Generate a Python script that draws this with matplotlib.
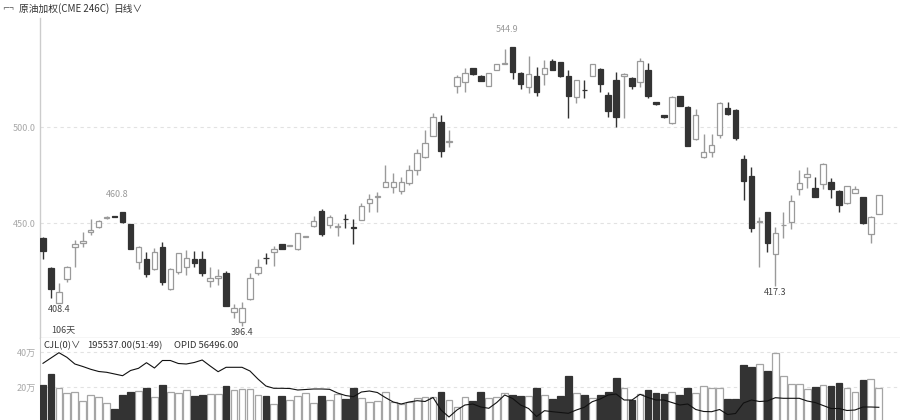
import matplotlib
matplotlib.use("Agg")
import matplotlib.pyplot as plt
import numpy as np

plt.rcParams['font.family'] = ['Noto Sans CJK SC', 'DejaVu Sans']

# ---------------- data (daily candles, 106 days) ----------------
opens = [442.5, 426.9, 408.4, 420.8, 437.5, 439.9, 445.6, 447.9, 452.6, 453.6,
         455.7, 449.6, 430.0, 431.3, 426.0, 437.5, 415.6, 424.8, 427.4, 431.6,
         431.6, 420.0, 421.4, 424.0, 403.6, 398.8, 410.6, 424.3, 432.0, 435.1,
         439.2, 438.2, 436.5, 442.9, 448.5, 456.4, 449.1, 448.0, 452.3, 447.8,
         451.7, 460.4, 463.7, 469.1, 469.1, 466.8, 470.8, 477.8, 484.5, 495.6,
         502.9, 492.3, 521.5, 523.7, 530.7, 526.9, 521.5, 529.8, 533.0, 541.7,
         528.1, 521.1, 526.7, 527.6, 534.5, 533.9, 526.7, 515.6, 519.5, 526.7,
         530.2, 516.8, 524.6, 526.7, 525.8, 523.4, 529.8, 513.0, 506.4, 502.1,
         516.3, 510.7, 493.8, 484.4, 487.0, 496.0, 509.9, 509.0, 483.5, 474.6,
         450.6, 455.7, 433.9, 448.9, 450.8, 467.9, 474.0, 468.2, 470.5, 471.4,
         466.8, 460.4, 465.9, 463.5, 444.3, 454.8]
highs = [443.0, 427.4, 418.8, 427.6, 441.3, 445.6, 452.1, 451.5, 453.6, 453.8,
         456.0, 449.8, 438.0, 435.2, 437.0, 440.4, 426.9, 434.8, 436.1, 435.6,
         435.6, 427.4, 426.0, 425.3, 408.0, 409.2, 424.0, 431.3, 434.4, 438.0,
         439.4, 438.6, 445.0, 443.3, 453.8, 457.3, 454.3, 450.3, 454.7, 452.1,
         460.7, 465.3, 466.5, 480.4, 476.0, 474.0, 480.4, 488.5, 498.6, 507.3,
         506.4, 498.6, 527.2, 530.7, 531.0, 527.1, 528.3, 533.2, 540.6, 542.0,
         529.0, 537.1, 531.6, 535.1, 535.6, 534.1, 529.8, 524.8, 524.6, 533.2,
         531.0, 518.5, 529.0, 528.1, 526.2, 535.9, 533.3, 513.2, 506.6, 516.1,
         516.5, 510.9, 509.5, 496.4, 496.4, 513.3, 513.3, 509.5, 485.6, 479.2,
         453.4, 456.0, 447.9, 456.0, 464.7, 477.8, 479.5, 474.0, 481.2, 473.4,
         467.5, 469.6, 469.4, 463.7, 453.6, 464.9]
lows = [431.3, 410.9, 408.4, 419.6, 427.4, 437.8, 443.9, 447.5, 452.4, 453.2,
        450.3, 436.5, 426.4, 421.9, 425.7, 417.9, 415.4, 423.6, 423.1, 427.1,
        422.6, 417.0, 417.9, 407.0, 400.5, 396.4, 410.0, 423.1, 428.9, 427.6,
        436.6, 438.0, 436.3, 442.7, 447.9, 443.4, 447.4, 443.4, 447.7, 439.2,
        451.5, 456.0, 456.0, 468.9, 466.0, 465.1, 469.9, 475.2, 483.9, 495.4,
        484.7, 489.9, 517.7, 518.5, 527.4, 524.1, 521.3, 529.6, 532.8, 525.0,
        519.8, 518.0, 516.5, 522.0, 529.6, 526.2, 504.7, 512.8, 515.1, 526.5,
        518.5, 505.2, 500.3, 504.7, 519.8, 521.1, 515.1, 511.8, 505.0, 501.9,
        511.1, 490.1, 493.6, 484.2, 484.4, 494.6, 506.4, 493.4, 462.1, 445.6,
        427.4, 435.2, 417.3, 442.2, 446.9, 464.7, 468.2, 463.7, 467.7, 463.0,
        456.0, 460.2, 465.7, 449.8, 439.6, 454.6]
closes = [435.7, 415.6, 414.1, 427.4, 439.0, 440.8, 446.5, 451.2, 453.4, 453.4,
          450.5, 436.8, 437.5, 423.4, 435.2, 419.6, 426.0, 434.4, 431.8, 429.5,
          424.3, 421.7, 422.7, 407.1, 406.0, 405.7, 421.4, 427.1, 431.8, 436.6,
          436.8, 438.4, 444.8, 443.1, 451.0, 444.4, 453.1, 448.8, 452.1, 447.6,
          459.0, 462.7, 464.4, 471.4, 471.7, 471.7, 477.8, 486.8, 492.0, 505.5,
          487.8, 492.6, 526.0, 528.1, 527.6, 524.3, 528.1, 533.0, 533.5, 529.0,
          522.5, 527.8, 518.5, 531.1, 529.8, 526.9, 516.5, 524.6, 519.3, 533.0,
          522.4, 508.6, 505.5, 527.7, 521.7, 534.5, 516.5, 512.0, 505.2, 515.9,
          511.3, 490.3, 506.4, 487.3, 490.8, 512.8, 506.9, 494.6, 472.2, 447.4,
          451.0, 439.6, 445.1, 449.3, 461.6, 470.8, 475.5, 463.9, 480.9, 467.9,
          459.5, 469.4, 467.7, 450.0, 453.4, 464.7]
# volume, in 万 (10k contracts)
volume = [21.1, 27.4, 19.6, 16.4, 17.3, 12.0, 15.4, 14.1, 10.7, 7.2,
          15.4, 17.1, 17.7, 19.6, 14.5, 21.1, 17.0, 16.4, 18.3, 14.9,
          15.4, 15.8, 15.8, 20.6, 18.3, 18.9, 18.9, 15.4, 14.9, 10.0,
          14.9, 12.6, 14.9, 16.4, 11.0, 14.9, 12.6, 16.0, 13.1, 19.2,
          13.5, 11.6, 12.0, 17.0, 11.2, 10.3, 11.6, 13.9, 14.5, 14.5,
          17.0, 12.4, 8.4, 14.1, 12.0, 17.0, 13.5, 14.5, 16.4, 15.4,
          14.9, 14.9, 19.2, 15.4, 13.1, 14.9, 26.3, 16.4, 15.4, 13.5,
          15.4, 17.1, 25.0, 19.2, 12.6, 16.0, 18.3, 16.8, 16.0, 17.0,
          15.4, 19.2, 16.8, 20.6, 19.2, 19.2, 13.1, 13.1, 32.6, 31.6,
          33.1, 29.1, 39.2, 26.3, 21.7, 21.7, 18.7, 19.8, 21.1, 20.6,
          22.5, 19.2, 17.3, 24.0, 24.4, 19.55]
# open interest, in 万
open_interest = [10.05, 10.58, 11.11, 10.65, 9.98, 9.73, 9.45, 9.23, 9.15, 8.98,
                 8.81, 9.33, 9.55, 10.11, 9.58, 10.33, 10.33, 10.03, 9.98, 10.13,
                 10.38, 9.78, 9.21, 9.65, 9.65, 9.65, 9.28, 8.48, 7.78, 7.55,
                 7.55, 7.53, 7.38, 7.43, 7.48, 7.48, 7.45, 7.08, 6.83, 6.71,
                 7.18, 7.28, 7.13, 6.63, 6.18, 5.98, 6.18, 6.31, 6.23, 6.63,
                 5.38, 4.68, 5.38, 5.88, 5.98, 5.68, 5.55, 6.13, 6.88, 6.53,
                 5.88, 5.53, 4.73, 5.31, 5.21, 5.13, 5.05, 5.38, 5.65, 6.21,
                 6.48, 6.88, 6.98, 6.38, 6.38, 6.95, 6.63, 6.38, 6.38, 6.13,
                 5.88, 5.98, 5.43, 5.23, 5.21, 5.43, 4.93, 5.03, 6.08, 6.38,
                 6.23, 6.28, 6.61, 6.55, 6.55, 6.55, 6.28, 6.13, 5.83, 5.53,
                 5.53, 5.33, 5.38, 5.68, 5.68, 5.65]

price_ticks = [450.0, 500.0]
price_tick_labels = ["450.0", "500.0"]
vol_ticks = [20, 40]
vol_tick_labels = ["20万", "40万"]

# annotated extremes: (index, label, above?)
annotations = [(10, "460.8", True), (59, "544.9", True),
               (2, "408.4", False), (25, "396.4", False), (92, "417.3", False)]

# ---------------- drawing ----------------
W, H = 900, 420
fig = plt.figure(figsize=(W / 100, H / 100), dpi=100)
fig.patch.set_facecolor("white")


def frac(x0, y0, x1, y1):
    return [x0 / W, 1 - y1 / H, (x1 - x0) / W, (y1 - y0) / H]


DARK = "#333333"
GRAY = "#9a9a9a"
GRID = "#e2e2e2"
AXIS = "#cccccc"

ax = fig.add_axes(frac(40, 18, 900, 338))
axv = fig.add_axes(frac(40, 338, 900, 420), sharex=ax)

O = np.array(opens); Hh = np.array(highs); L = np.array(lows); C = np.array(closes)
idx = np.arange(len(O))
up = C >= O

# wicks
ax.vlines(idx[up], L[up], Hh[up], color=GRAY, lw=1.0, zorder=2)
ax.vlines(idx[~up], L[~up], Hh[~up], color=DARK, lw=1.0, zorder=2)
# bodies
bw = 0.68
bottom = np.minimum(O, C)
height = np.maximum(np.abs(C - O), 0.35)
ax.bar(idx[up], height[up], bw, bottom=bottom[up], facecolor="white",
       edgecolor=GRAY, linewidth=0.9, zorder=3)
ax.bar(idx[~up], height[~up], bw, bottom=bottom[~up], facecolor=DARK,
       edgecolor=DARK, linewidth=0.9, zorder=3)

ax.set_xlim(-0.377, 107.66)
ax.set_ylim(390.3, 556.9)
for v in price_ticks:
    ax.axhline(v, color=GRID, lw=0.8, ls=(0, (3, 3)), zorder=1)
ax.set_yticks(price_ticks)
ax.set_yticklabels(price_tick_labels)
ax.tick_params(axis="y", length=0, pad=3, labelsize=6.5, labelcolor="#a8a8a8")
ax.tick_params(axis="x", length=0, labelbottom=False)
for s in ["top", "right"]:
    ax.spines[s].set_visible(False)
ax.spines["left"].set_color(AXIS)
ax.spines["bottom"].set_color("#d4d4d4")
ax.spines["left"].set_linewidth(1.0)
ax.spines["bottom"].set_linewidth(1.0)

for i, lab, above in annotations:
    if above:
        ax.annotate(lab, (i, Hh[i]), xytext=(-4, 9), textcoords="offset points",
                    ha="center", va="bottom", fontsize=6.5, color="#9a9a9a")
    else:
        ax.annotate(lab, (i, L[i]), xytext=(0, -1.5), textcoords="offset points",
                    ha="center", va="top", fontsize=6.5, color="#444444")

ax.text(1, 392.5, "106天", fontsize=6.5, color="#444444", ha="left", va="bottom",
        transform=ax.transData)

# volume panel
V = np.array(volume)
axv.bar(idx[up], V[up], 0.85, facecolor="white", edgecolor="#a5a5a5", linewidth=0.9, zorder=3)
axv.bar(idx[~up], V[~up], 0.85, facecolor=DARK, edgecolor=DARK, linewidth=0.9, zorder=3)
axv.set_ylim(1.14, 48.0)
for v in vol_ticks:
    axv.axhline(v, color=GRID, lw=0.8, ls=(0, (3, 3)), zorder=1)
axv.set_yticks(vol_ticks)
axv.set_yticklabels(vol_tick_labels)
axv.tick_params(axis="y", length=0, pad=3, labelsize=6.5, labelcolor="#a8a8a8")
axv.tick_params(axis="x", length=0, labelbottom=False)
for s in ["top", "right", "bottom"]:
    axv.spines[s].set_visible(False)
axv.spines["left"].set_color(AXIS)

axo = axv.twinx()
axo.plot(idx, open_interest, color="#111111", lw=0.8, zorder=4)
axo.set_ylim(4.38, 12.58)
axo.set_yticks([])
for s in axo.spines.values():
    s.set_visible(False)

# header texts
fig.text(2 / W, 1 - 9 / H, "⌐¬", fontsize=6, color="#555555", va="center", ha="left")
fig.text(19 / W, 1 - 9 / H, "原油加权(CME 246C)", fontsize=7, color="#333333",
         va="center", ha="left")
fig.text(113 / W, 1 - 9 / H, "日线∨", fontsize=7, color="#333333",
         va="center", ha="left")
fig.text(43 / W, 1 - 346 / H, "CJL(0)∨", fontsize=6.8, color="#333333",
         va="center", ha="left")
fig.text(87 / W, 1 - 346 / H, "195537.00(51:49)", fontsize=6.8, color="#333333",
         va="center", ha="left")
fig.text(174 / W, 1 - 346 / H, "OPID 56496.00", fontsize=6.8, color="#333333",
         va="center", ha="left")

fig.savefig("out.png", dpi=100, facecolor="white")
